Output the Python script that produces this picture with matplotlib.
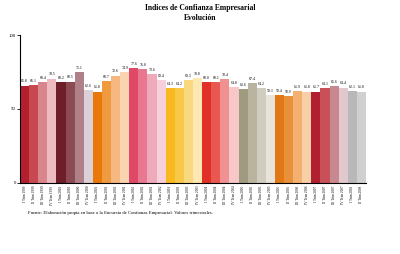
import numpy as np
import matplotlib
matplotlib.use("Agg")
import matplotlib.pyplot as plt

# indices par trimestre (approx.)
periodes = [f"{t} Trim {a}" for a in range(1999, 2009) for t in ("I", "II", "III", "IV")][:38]
valeurs = [65.8, 66.1, 68.4, 70.5, 68.2, 68.5, 75.1, 62.6, 61.8, 68.7,
           72.6, 74.9, 77.6, 76.8, 73.6, 69.4, 64.3, 64.2, 69.3, 70.8,
           68.0, 68.1, 70.4, 64.8, 63.6, 67.4, 64.2, 59.3, 59.4, 58.9,
           61.9, 61.8, 61.7, 64.1, 65.6, 64.4, 62.1, 61.8]
couleurs = ["#b22030", "#c84850", "#d8868c", "#ecbcc2",
            "#6e1e28", "#8c4a52", "#b08088", "#dcd0d8",
            "#e8780a", "#f09a40", "#f5b880", "#fad4b0",
            "#e04868", "#e87890", "#eeaabb", "#f8d0dc",
            "#f8b820", "#f8c848", "#fad880", "#fce8b0",
            "#e03028", "#e85850", "#f09090", "#f8c8c8",
            "#a09a80", "#b8b4a0", "#d0ccc0", "#e8e4dc",
            "#e07818", "#e8903a", "#f4b070", "#f8d0a8",
            "#b02030", "#c85058", "#c88890", "#e0c8cc",
            "#b8b8b8", "#d0d0d0"]

fig = plt.figure(figsize=(4.0, 2.54), dpi=100)
ax = fig.add_axes([0.05, 0.28, 0.865, 0.582])
x = np.arange(len(valeurs))
ax.bar(x, valeurs, width=1.0, color=couleurs, edgecolor="none")
for xi, v in zip(x, valeurs):
    ax.text(xi, v + 1.5, f"{v:.1f}", ha="center", va="bottom", fontsize=2.8,
            family="Liberation Serif")
ax.set_xlim(-0.5, len(valeurs) - 0.5)
ax.set_ylim(0, 100)
ax.set_yticks([0, 50, 100])
ax.set_yticklabels(["0", "50", "100"], fontsize=3.5, family="Liberation Serif")
ax.set_xticks(x)
ax.set_xticklabels(periodes, rotation=90, fontsize=2.4, family="Liberation Serif")
ax.tick_params(axis="y", length=2, width=0.6, pad=1)
ax.tick_params(axis="x", length=0, pad=2)
for s in ("top", "right"):
    ax.spines[s].set_visible(False)
ax.spines["left"].set_linewidth(0.8)
ax.spines["bottom"].set_linewidth(0.8)

fig.text(0.5, 0.968, "Indices de Confianza Empresarial", ha="center", va="center",
         fontsize=5.5, fontweight="bold", family="Liberation Serif")
fig.text(0.5, 0.928, "Evolución", ha="center", va="center",
         fontsize=5.5, fontweight="bold", family="Liberation Serif")
fig.text(0.07, 0.16, "Fuente: Elaboración propia en base a la Encuesta de Confianza Empresarial. Valores trimestrales.",
         ha="left", va="center", fontsize=3.4, family="Liberation Serif")

fig.savefig("out.png", dpi=100)
